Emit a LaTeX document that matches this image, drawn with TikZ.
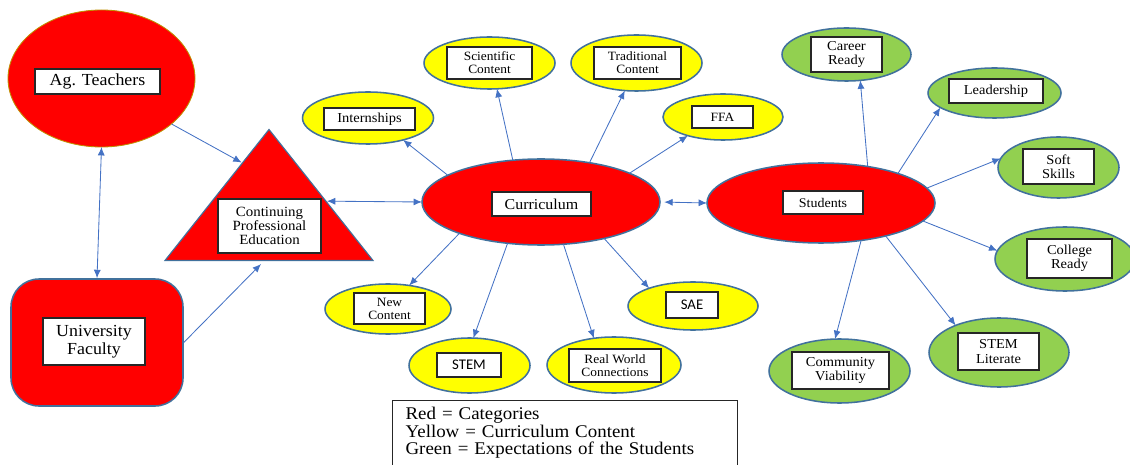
\documentclass[tikz,border=0pt]{standalone}
\usepackage{fontspec}
\setmainfont{Liberation Serif}[FakeStretch=1.06]
\newfontfamily\calfont{Carlito}
\usetikzlibrary{arrows.meta,calc,shapes.geometric}
\definecolor{catred}{HTML}{FF0000}
\definecolor{cyellow}{HTML}{FFFF00}
\definecolor{expgreen}{HTML}{92D050}
\definecolor{rim}{HTML}{41719C}
\definecolor{goldrim}{HTML}{BF9000}
\definecolor{link}{HTML}{4472C4}
\newcommand{\pxu}{0.025cm}
\tikzset{
  oval/.style 2 args={ellipse,draw=rim,line width=1.1pt,inner sep=0pt,outer sep=0pt,minimum width=#1*\pxu,minimum height=#2*\pxu},
  redoval/.style 2 args={oval={#1}{#2},fill=catred},
  yeloval/.style 2 args={oval={#1}{#2},fill=cyellow},
  grnoval/.style 2 args={oval={#1}{#2},fill=expgreen},
  tag/.style 2 args={draw=black!85,fill=white,line width=0.8pt,inner sep=0pt,align=center,minimum width=#1*\pxu,minimum height=#2*\pxu},
  arrow/.style={-{Latex[length=6pt,width=5pt]},line width=0.6pt,draw=link},
  twoway/.style={{Latex[length=6pt,width=5pt]}-{Latex[length=6pt,width=5pt]},line width=0.6pt,draw=link}
}

\begin{document}
\begin{tikzpicture}[
    x=0.025cm,y=-0.025cm,
    yfont/.style={font=\fontsize{9}{9.2}\selectfont},
    gfont/.style={font=\fontsize{9.7}{10.2}\selectfont},
    unibox/.style={rectangle,rounded corners=0.7cm,fill=catred,draw=rim,line width=1.1pt,minimum width=172*\pxu,minimum height=127*\pxu},
    tri/.style={isosceles triangle,isosceles triangle stretches,shape border rotate=90,fill=catred,draw=rim,line width=0.8pt,inner sep=0pt,minimum width=208*\pxu,minimum height=131*\pxu,anchor=apex},
    legend/.style={draw=black!85,line width=0.8pt,anchor=north west,align=left,text width=7.975cm,inner xsep=0.325cm,inner ysep=5pt,text depth=50pt,font=\fontsize{12.7}{12.4}\selectfont}
  ]
  \useasboundingbox (0,0) rectangle (1130,465);

  \node[redoval={187}{137},draw=goldrim,line width=0.6pt] (ag) at (101.5,78.5) {};
  \node[tag={125}{25},font=\fontsize{12}{12}\selectfont] (ag-t) at (97.5,81.5) {Ag. Teachers};
  \node[unibox] (uf) at (97,342.5) {};
  \node[tag={102}{47},font=\fontsize{12}{12.5}\selectfont] (uf-t) at (94,341.5) {University\\Faculty};
  \node[tri] (cpe) at (269,128) {};
  \node[tag={103}{54},font=\fontsize{10}{10.2}\selectfont] (cpe-t) at (269.5,226) {Continuing\\Professional\\Education};
  \node[redoval={238}{86}] (curr) at (541,202) {};
  \node[tag={99}{24},font=\fontsize{10.7}{10.7}\selectfont] (curr-t) at (541.5,204) {Curriculum};
  \node[redoval={228}{80}] (stud) at (821,203) {};
  \node[tag={80}{23},font=\fontsize{9.4}{9.4}\selectfont] (stud-t) at (823,202.5) {Students};

  \node[yeloval={131}{52}] (intern) at (368,118) {};
  \node[tag={91}{22},font=\fontsize{9.7}{9.7}\selectfont] (intern-t) at (369.5,119) {Internships};
  \node[yeloval={131}{52}] (sci) at (489.5,63) {};
  \node[tag={85}{32},yfont] (sci-t) at (489.5,63) {Scientific\\Content};
  \node[yeloval={131}{56}] (trad) at (636.5,63) {};
  \node[tag={87}{32},yfont] (trad-t) at (637.5,63) {Traditional\\Content};
  \node[yeloval={120}{46}] (ffa) at (723,117) {};
  \node[tag={61}{22},yfont] (ffa-t) at (722.5,117) {FFA};
  \node[yeloval={126}{50}] (newc) at (388,309) {};
  \node[tag={71}{31},yfont] (newc-t) at (389.5,308.5) {New\\Content};
  \node[yeloval={121}{55}] (stem) at (469.5,365.5) {};
  \node[tag={64}{24},font=\calfont\fontsize{10.5}{10.5}\selectfont] (stem-t) at (469,365) {STEM};
  \node[yeloval={134}{56}] (realw) at (614,365) {};
  \node[tag={92}{33},yfont] (realw-t) at (615,365.5) {Real World\\Connections};
  \node[yeloval={130}{48}] (sae) at (693,306) {};
  \node[tag={52}{26},font=\calfont\fontsize{10.5}{10.5}\selectfont] (sae-t) at (692,305) {SAE};

  \node[grnoval={129}{53}] (career) at (846.5,54.5) {};
  \node[tag={71}{35},gfont] (career-t) at (846.5,54.5) {Career\\Ready};
  \node[grnoval={133}{50}] (lead) at (994.5,93) {};
  \node[tag={94}{24},gfont] (lead-t) at (996,91) {Leadership};
  \node[grnoval={121}{61}] (soft) at (1058.5,167.5) {};
  \node[tag={71}{35},gfont] (soft-t) at (1058.5,166.5) {Soft\\Skills};
  \node[grnoval={140}{64}] (college) at (1065,259) {};
  \node[tag={85}{39},gfont] (college-t) at (1069.5,258.5) {College\\Ready};
  \node[grnoval={140}{69}] (stemlit) at (999,352.5) {};
  \node[tag={81}{37},gfont] (stemlit-t) at (998.5,351.5) {STEM\\Literate};
  \node[grnoval={141}{64}] (commv) at (839.5,371) {};
  \node[tag={97}{37},gfont] (commv-t) at (840.5,370.5) {Community\\Viability};

  \node[legend] (key) at (392,400) {Red = Categories\\Yellow = Curriculum Content\\Green = Expectations of the Students};

  \draw[twoway] (ag.south) -- (uf.north);
  \draw[arrow] (ag.327) -- ($(cpe.apex)!0.26!(cpe.left corner)$);
  \draw[arrow,shorten >=3pt] (uf.east) -- ($(cpe.left corner)!0.476!(cpe.right corner)$);
  \draw[twoway] ($(cpe.apex)!0.55!(cpe.right corner)$) -- (curr.west);
  \draw[twoway,shorten <=3pt] (curr.east) -- (stud.west);

  \draw[arrow] (curr.164) -- (intern.328);
  \draw[arrow] (curr.124) -- (sci.286);
  \draw[arrow] (curr.39) -- (trad.247);
  \draw[arrow] (curr.18) -- (ffa.208);
  \draw[arrow] (curr.201) -- (newc.48);
  \draw[arrow] (curr.231) -- (stem.82);
  \draw[arrow] (curr.298) -- (realw.127);
  \draw[arrow] (curr.330) -- (sae.158);

  \draw[arrow] (stud.38) -- (career.298);
  \draw[arrow] (stud.21) -- (lead.195);
  \draw[arrow] (stud.8) -- (soft.171);
  \draw[arrow] (stud.350) -- (college.173);
  \draw[arrow] (stud.333) -- (stemlit.148);
  \draw[arrow] (stud.317) -- (commv.98);
\end{tikzpicture}
\end{document}
